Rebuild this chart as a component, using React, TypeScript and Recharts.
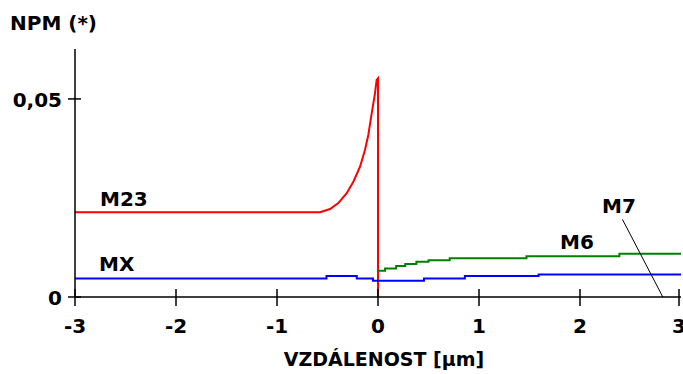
import React from "react";
import { LineChart, Line, XAxis, YAxis } from "recharts";

const xTicks = [-3, -2, -1, 0, 1, 2, 3];
const yTicks = [0, 0.05];
const yTickLabels: Record<string, string> = { "0": "0", "0.05": "0,05" };

const m23 = [
  { x: -3, y: 0.0214 },
  { x: -0.574, y: 0.0214 },
  { x: -0.475, y: 0.0222 },
  { x: -0.393, y: 0.0237 },
  { x: -0.31, y: 0.0262 },
  { x: -0.244, y: 0.0291 },
  { x: -0.178, y: 0.0329 },
  { x: -0.129, y: 0.0371 },
  { x: -0.096, y: 0.0409 },
  { x: -0.062, y: 0.0464 },
  { x: -0.03, y: 0.0514 },
  { x: -0.013, y: 0.0548 },
  { x: 0, y: 0.0552 },
  { x: 0, y: 0 },
];

const mx = [
  { x: -3, y: 0.0047 },
  { x: -0.51, y: 0.0053 },
  { x: -0.21, y: 0.0047 },
  { x: -0.05, y: 0.0041 },
  { x: 0.455, y: 0.0047 },
  { x: 0.86, y: 0.0053 },
  { x: 1.59, y: 0.0057 },
  { x: 3, y: 0.0057 },
];

const m6 = [
  { x: 0, y: 0.0066 },
  { x: 0.07, y: 0.0072 },
  { x: 0.18, y: 0.0078 },
  { x: 0.27, y: 0.0083 },
  { x: 0.38, y: 0.0089 },
  { x: 0.5, y: 0.0093 },
  { x: 0.71, y: 0.0098 },
  { x: 1.47, y: 0.0103 },
  { x: 2.39, y: 0.0109 },
  { x: 3, y: 0.0109 },
];

const m7 = [
  { x: 2.42, y: 0.0196 },
  { x: 2.82, y: 0 },
];

const FONT = "'DejaVu Sans', Verdana, sans-serif";
const FS = 20;

const XTick = (props: any) => {
  const { x, y, payload } = props;
  return (
    <g>
      <line x1={x} x2={x} y1={y - 8} y2={y + 9} stroke="#000" strokeWidth={1.5} />
      <text x={x} y={y + 36} textAnchor="middle" fontFamily={FONT} fontWeight="bold" fontSize={FS} fill="#000">
        {String(payload.value)}
      </text>
    </g>
  );
};

const YTick = (props: any) => {
  const { x, y, payload } = props;
  return (
    <g>
      <line x1={x - 7} x2={x + 6} y1={y} y2={y} stroke="#000" strokeWidth={1.5} />
      <text x={x - 13} y={y + 8} textAnchor="end" fontFamily={FONT} fontWeight="bold" fontSize={FS} fill="#000">
        {yTickLabels[String(payload.value)]}
      </text>
    </g>
  );
};

const labelStyle = { fontFamily: FONT, fontWeight: "bold" as const, fontSize: FS, fill: "#000" };

export default function App() {
  return (
    <div style={{ position: "absolute", left: 0, top: 0, width: 683, height: 374, background: "#fff" }}>
      <LineChart width={683} height={374} margin={{ top: 49, right: 2, bottom: 47, left: 0 }}>
        <XAxis
          type="number"
          dataKey="x"
          domain={[-3, 3]}
          ticks={xTicks}
          height={30}
          tickSize={0}
          tickMargin={0}
          tickLine={false}
          tick={<XTick />}
          axisLine={{ stroke: "#000", strokeWidth: 1.5 }}
          allowDuplicatedCategory={false}
        />
        <YAxis
          type="number"
          dataKey="y"
          domain={[0, 0.0626]}
          ticks={yTicks}
          width={75}
          tickSize={0}
          tickMargin={0}
          tickLine={false}
          tick={<YTick />}
          axisLine={{ stroke: "#000", strokeWidth: 1.5 }}
        />
        <Line data={m23} dataKey="y" type="linear" stroke="#ff0000" strokeWidth={2} dot={false} isAnimationActive={false} />
        <Line data={mx} dataKey="y" type="stepAfter" stroke="#0000ff" strokeWidth={2} dot={false} isAnimationActive={false} />
        <Line data={m6} dataKey="y" type="stepAfter" stroke="#008000" strokeWidth={2} dot={false} isAnimationActive={false} />
        <Line data={m7} dataKey="y" type="linear" stroke="#000" strokeWidth={1} dot={false} isAnimationActive={false} />
      </LineChart>
      <svg width={683} height={374} style={{ position: "absolute", left: 0, top: 0, pointerEvents: "none" }}>
        <text x={10} y={30} {...labelStyle}>NPM (*)</text>
        <text x={100} y={206} {...labelStyle}>M23</text>
        <text x={99} y={271} {...labelStyle}>MX</text>
        <text x={560} y={249} {...labelStyle}>M6</text>
        <text x={602} y={213} {...labelStyle}>M7</text>
        <text x={384} y={366} textAnchor="middle" {...labelStyle} fontSize={19}>VZDÁLENOST [µm]</text>
      </svg>
    </div>
  );
}
